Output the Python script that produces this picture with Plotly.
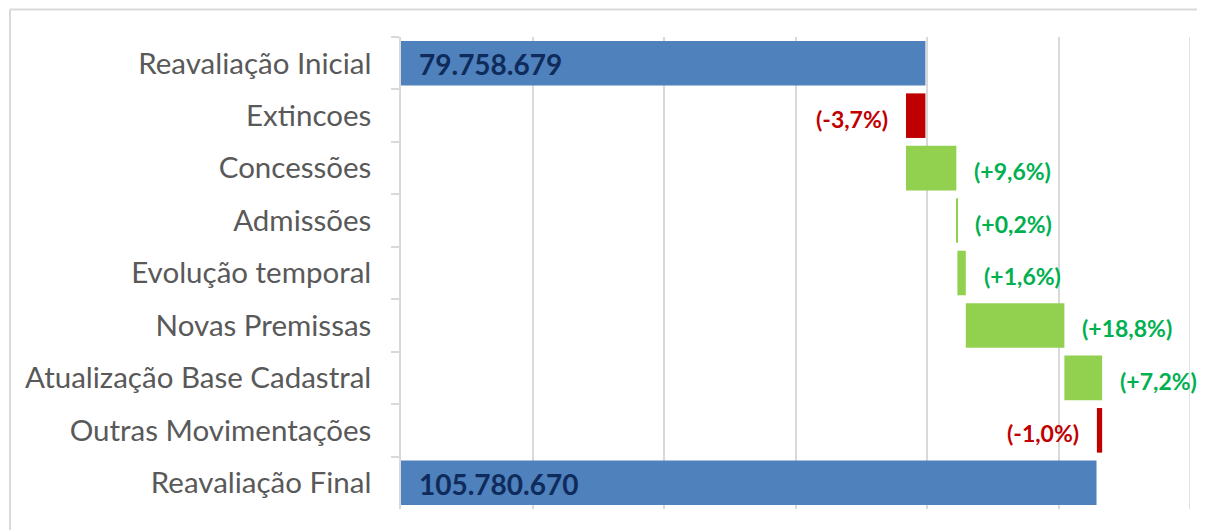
import plotly.graph_objects as go

categories = ["Reavaliação Inicial", "Extincoes", "Concessões", "Admissões",
              "Evolução temporal", "Novas Premissas", "Atualização Base Cadastral",
              "Outras Movimentações", "Reavaliação Final"]
initial_value = 79758679
final_value = 105780670
step_pct = [-3.7, 9.6, 0.2, 1.6, 18.8, 7.2, -1.0]   # % of initial value
total_labels = ["79.758.679", "105.780.670"]
axis_max = 120000000

BLUE, RED, GREEN = "#4F81BD", "#C00000", "#92D050"
RED_TXT, GREEN_TXT = "#C00000", "#00B050"
GRID = "#D9D9D9"

bases, lengths, colors = [], [], []
annotations = []

# initial
bases.append(0); lengths.append(initial_value); colors.append(BLUE)
annotations.append(dict(x=0, y=categories[0], text="<b>%s</b>" % total_labels[0],
                        xanchor="left", xshift=16, yshift=-1, showarrow=False,
                        font=dict(family="Lato", size=28, color="#0F2B5B")))
cum = initial_value
for i, p in enumerate(step_pct):
    delta = initial_value * p / 100.0
    start, end = cum, cum + delta
    bases.append(min(start, end)); lengths.append(abs(delta))
    cat = categories[i + 1]
    txt = ("(+%s%%)" if p > 0 else "(%s%%)") % ("%.1f" % p).replace(".", ",")
    if p > 0:
        colors.append(GREEN)
        annotations.append(dict(x=end, y=cat, text="<b>%s</b>" % txt, xanchor="left",
                                xshift=16, yshift=-3, showarrow=False,
                                font=dict(family="Lato", size=23, color=GREEN_TXT)))
    else:
        colors.append(RED)
        annotations.append(dict(x=end, y=cat, text="<b>%s</b>" % txt, xanchor="right",
                                xshift=-16, yshift=-3, showarrow=False,
                                font=dict(family="Lato", size=23, color=RED_TXT)))
    cum = end

# final
bases.append(0); lengths.append(final_value); colors.append(BLUE)
annotations.append(dict(x=0, y=categories[-1], text="<b>%s</b>" % total_labels[1],
                        xanchor="left", xshift=16, yshift=-1, showarrow=False,
                        font=dict(family="Lato", size=28, color="#0F2B5B")))

fig = go.Figure(go.Bar(
    y=categories, x=lengths, base=bases, orientation="h",
    marker=dict(color=colors, line=dict(width=0)),
    hoverinfo="skip",
))

fig.update_layout(
    width=1197, height=522,
    margin=dict(l=393, r=15, t=29, b=21),
    paper_bgcolor="white", plot_bgcolor="white",
    bargap=0.15, showlegend=False,
    annotations=annotations,
    shapes=[
        # chart frame (top and left edges visible)
        dict(type="line", xref="paper", yref="paper",
             x0=(10 - 401) / 789, x1=(1215 - 401) / 789,
             y0=1 + (37 - 9.5) / 472, y1=1 + (37 - 9.5) / 472,
             line=dict(color=GRID, width=2), layer="below"),
        dict(type="line", xref="paper", yref="paper",
             x0=(10 - 401) / 789, x1=(10 - 401) / 789,
             y0=(509 - 540) / 472, y1=1 + (37 - 9.5) / 472,
             line=dict(color=GRID, width=2), layer="below"),
        # last vertical gridline at the right edge of the axis
        dict(type="line", xref="x", yref="paper", x0=axis_max, x1=axis_max, y0=0, y1=1,
             line=dict(color=GRID, width=1.5), layer="below"),
    ],
)
fig.update_xaxes(range=[0, axis_max], dtick=20000000, showgrid=True, gridcolor=GRID,
                 gridwidth=1.5, showticklabels=False, zeroline=False, showline=False,
                 ticks="")
fig.update_yaxes(autorange="reversed", showline=True, linecolor=GRID, linewidth=1.5,
                 ticks="outside", tickson="boundaries", ticklen=8, tickcolor=GRID,
                 tickwidth=1.5, ticklabelstandoff=22,
                 tickfont=dict(family="Lato", size=29.5, color="#595959"),
                 showgrid=False)

fig.write_html("out.html")
